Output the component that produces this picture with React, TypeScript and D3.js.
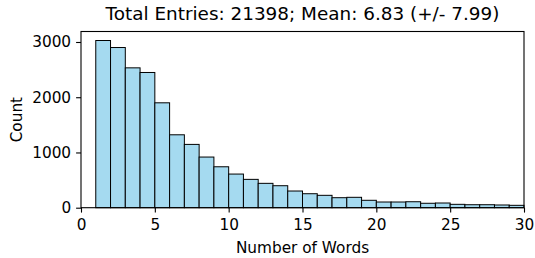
import React, { useRef, useEffect } from "react";
import * as d3 from "d3";

// bin edges run from 1 to 30, one word per bin
const binStarts = [
  1, 2, 3, 4, 5, 6, 7, 8, 9, 10, 11, 12, 13, 14, 15, 16, 17, 18, 19, 20, 21,
  22, 23, 24, 25, 26, 27, 28, 29,
];
const counts = [
  3027, 2900, 2532, 2448, 1899, 1320, 1146, 917, 741, 609, 513, 441, 398, 302,
  253, 224, 181, 188, 134, 103, 103, 108, 80, 85, 61, 54, 54, 49, 43,
];
const xTicks = [0, 5, 10, 15, 20, 25, 30];
const yTicks = [0, 1000, 2000, 3000];
const title = "Total Entries: 21398; Mean: 6.83 (+/- 7.99)";

const App: React.FC = () => {
  const container = useRef<SVGSVGElement>(null);

  useEffect(() => {
    const margin = { top: 31.5, right: 11, bottom: 50.3, left: 81 };
    const W = 535;
    const H = 258;
    const width = W - margin.left - margin.right;
    const height = H - margin.top - margin.bottom;
    const font = "DejaVu Sans, sans-serif";

    const root = d3.select(container.current);
    root.selectChildren().remove();

    const svg = root
      .append("g")
      .attr("transform", `translate(${margin.left},${margin.top})`);

    const x = d3.scaleLinear().domain([0, 30]).range([0, width]);
    const y = d3.scaleLinear().domain([0, 3190]).range([height, 0]);

    // bars
    svg
      .selectAll("rect.bar")
      .data(binStarts)
      .enter()
      .append("rect")
      .attr("class", "bar")
      .attr("x", (d) => x(d))
      .attr("y", (d, i) => y(counts[i]))
      .attr("width", (d) => x(d + 1) - x(d))
      .attr("height", (d, i) => y(0) - y(counts[i]))
      .attr("fill", "#a5daf0")
      .attr("stroke", "#000")
      .attr("stroke-width", 1);

    // frame
    svg
      .append("rect")
      .attr("x", 0)
      .attr("y", 0)
      .attr("width", width)
      .attr("height", height)
      .attr("fill", "none")
      .attr("stroke", "#000")
      .attr("stroke-width", 1.1);

    const xAxis = svg
      .append("g")
      .attr("transform", `translate(0,${height})`)
      .call(
        d3
          .axisBottom(x)
          .tickValues(xTicks)
          .tickFormat(d3.format("d"))
          .tickSize(4.9)
          .tickPadding(7)
      );
    const yAxis = svg
      .append("g")
      .call(
        d3
          .axisLeft(y)
          .tickValues(yTicks)
          .tickFormat(d3.format("d"))
          .tickSize(4.9)
          .tickPadding(5)
      );

    [xAxis, yAxis].forEach((g) => {
      g.select(".domain").remove();
      g.selectAll("line").attr("stroke", "#000").attr("stroke-width", 1.1);
      g.selectAll("text")
        .attr("font-family", font)
        .attr("font-size", 15.3)
        .attr("fill", "#000");
    });

    svg
      .append("text")
      .attr("x", width / 2)
      .attr("y", 20 - margin.top)
      .attr("text-anchor", "middle")
      .attr("font-family", font)
      .attr("font-size", 18.4)
      .attr("fill", "#000")
      .text(title);

    svg
      .append("text")
      .attr("x", width / 2)
      .attr("y", 252.5 - margin.top)
      .attr("text-anchor", "middle")
      .attr("font-family", font)
      .attr("font-size", 15.3)
      .attr("fill", "#000")
      .text("Number of Words");

    svg
      .append("text")
      .attr("transform", `translate(${21.5 - margin.left},${height / 2}) rotate(-90)`)
      .attr("text-anchor", "middle")
      .attr("font-family", font)
      .attr("font-size", 15.3)
      .attr("fill", "#000")
      .text("Count");
  }, []);

  return (
    <svg
      ref={container}
      width={535}
      height={258}
      style={{ position: "absolute", left: 0, top: 0, background: "#fff" }}
    />
  );
};

export default App;
